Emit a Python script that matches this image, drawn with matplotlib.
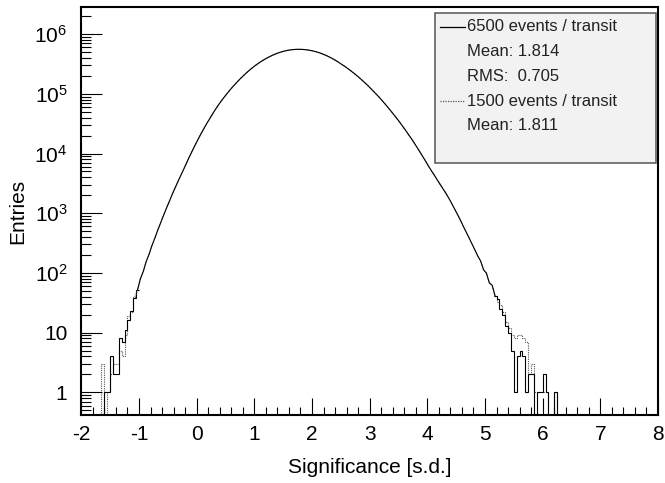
import numpy as np
import matplotlib
matplotlib.use("Agg")
import matplotlib.pyplot as plt
from matplotlib.ticker import FixedLocator, LogLocator, NullFormatter, MultipleLocator
from matplotlib.patches import Rectangle
from matplotlib.lines import Line2D

plt.rcParams['font.family'] = ['Liberation Sans', 'DejaVu Sans']
plt.rcParams['mathtext.fontset'] = 'custom'
plt.rcParams['mathtext.rm'] = 'Liberation Sans'
plt.rcParams['mathtext.it'] = 'Liberation Sans:italic'

# histogram binning
bin_lo = -2.0
bin_width = 0.05

# 6500 events / transit, counts per bin starting at -2.0
counts_6500 = [
    0, 0, 0, 0, 0, 0, 0, 0, 1, 1,
    4, 2, 2, 8, 7, 11, 16, 23, 38, 52,
    80, 106, 155, 205, 287, 381, 518, 687, 916, 1202,
    1567, 2051, 2636, 3381, 4295, 5433, 6950, 8831, 11120, 13930,
    17300, 21330, 26060, 31700, 38190, 45810, 54580, 64420, 75340, 87100,
    100200, 114800, 130600, 147600, 166300, 186200, 207000, 229600, 252400, 276700,
    301300, 325800, 350800, 375800, 399900, 423600, 446700, 467700, 487500, 504700,
    520000, 533300, 543300, 550800, 554600, 555900, 554600, 549500, 542000, 532100,
    518800, 504700, 487500, 467700, 447700, 425600, 402700, 378400, 354800, 330400,
    306900, 285100, 263000, 242100, 221800, 202800, 184500, 166700, 150700, 135500,
    121100, 107900, 96160, 85510, 75340, 66220, 57940, 50580, 44060, 38190,
    33040, 28310, 24320, 20650, 17660, 14890, 12530, 10500, 8770, 7295,
    6053, 5070, 4285, 3573, 3013, 2535, 2138, 1770, 1439, 1167,
    944, 760, 600, 481, 384, 305, 243, 192, 158, 113,
    99, 68, 62, 41, 37, 25, 20, 13, 10, 5,
    1, 4, 5, 4, 1, 2, 2, 0, 1, 1,
    2, 1, 0, 0, 1, 0,
]

# 1500 events / transit: same as above in the core, different in the tails
tail_lo_start = -1.65
tail_lo_1500 = [3, 0, 1, 2, 3, 3, 5, 4, 9, 19, 22, 40, 50]
tail_hi_start = 5.2
tail_hi_1500 = [33, 29, 22, 15, 12, 9, 8, 9, 9, 8, 7, 2, 3, 1, 1, 1, 1, 1]

labels = ["6500 events / transit", "Mean: 1.814", "RMS:  0.705",
          "1500 events / transit", "Mean: 1.811"]

counts_6500 = np.array(counts_6500, dtype=float)
n = len(counts_6500)
edges = bin_lo + bin_width * np.arange(n + 1)
centers = 0.5 * (edges[:-1] + edges[1:])
counts_1500 = counts_6500.copy()
i0 = int(round((tail_lo_start - bin_lo) / bin_width))
counts_1500[i0:i0 + len(tail_lo_1500)] = tail_lo_1500
i1 = int(round((tail_hi_start - bin_lo) / bin_width))
counts_1500[i1:i1 + len(tail_hi_1500)] = tail_hi_1500

fig = plt.figure(figsize=(6.65, 4.83), dpi=100)
ax = fig.add_axes([81.3 / 665, 1 - 415 / 483, (658 - 81.3) / 665, (415 - 7.3) / 483])


def draw_hist(counts, **style):
    # empty bins drop to the bottom of the frame, like ROOT draws them
    vals = np.where(counts > 0, counts, 1e-3)
    big = np.where(counts >= 40)[0]
    a, b = big[0], big[-1]
    # sparse tails as steps, dense core as a smooth outline
    ax.stairs(vals[:a + 1], edges[:a + 2], baseline=None, **style)
    ax.stairs(vals[b:], edges[b:], baseline=None, **style)
    ax.plot(centers[a:b + 1], vals[a:b + 1], **style)


draw_hist(counts_1500, color="#555555", lw=0.8, linestyle=(0, (1, 1)))
draw_hist(counts_6500, color="black", lw=0.8)

ax.set_yscale("log")
ax.set_xlim(-2, 8)
ax.set_ylim(0.417, 2.81e6)

ax.xaxis.set_major_locator(MultipleLocator(1))
ax.xaxis.set_minor_locator(MultipleLocator(0.2))
yt = [1, 10, 1e2, 1e3, 1e4, 1e5, 1e6]
ax.yaxis.set_major_locator(FixedLocator(yt))
ax.set_yticklabels(["1", "10", "$10^{2}$", "$10^{3}$", "$10^{4}$", "$10^{5}$", "$10^{6}$"])
ax.yaxis.set_minor_locator(LogLocator(base=10, subs=np.arange(2, 10)))
ax.yaxis.set_minor_formatter(NullFormatter())
xt = np.arange(-2, 9)
ax.set_xticks(xt)
ax.set_xticklabels([str(v) for v in xt])

ax.tick_params(axis="x", which="major", direction="in", length=12.2, width=0.8,
               labelsize=15, pad=7, top=False)
ax.tick_params(axis="x", which="minor", direction="in", length=5.8, width=0.8, top=False)
ax.tick_params(axis="y", which="major", direction="in", length=15, width=0.8,
               labelsize=15, pad=10, right=False)
ax.tick_params(axis="y", which="minor", direction="in", length=7.2, width=0.8, right=False)
for s in ax.spines.values():
    s.set_linewidth(1.5)

ax.set_xlabel("Significance [s.d.]", fontsize=15, labelpad=10)
ax.set_ylabel("Entries", fontsize=15, labelpad=5)

# stats / legend box
fig.patches.append(Rectangle((435 / 665, 1 - 162.7 / 483), 221 / 665, 150 / 483,
                             transform=fig.transFigure, facecolor="#f2f2f2",
                             edgecolor="#555555", lw=1.1, zorder=5))
ys = [26.7, 52, 76.7, 101.3, 126]
for lab, y in zip(labels, ys):
    fig.text(467.3 / 665, 1 - y / 483, lab, fontsize=12, va="center", ha="left",
             color="#222222", zorder=6)
fig.lines.append(Line2D([440 / 665, 465 / 665], [1 - ys[0] / 483] * 2,
                        transform=fig.transFigure, color="black", lw=0.9, zorder=6))
fig.lines.append(Line2D([440 / 665, 465 / 665], [1 - ys[3] / 483] * 2,
                        transform=fig.transFigure, color="#555555", lw=0.9,
                        linestyle=(0, (1, 1)), zorder=6))

fig.savefig("out.png", dpi=100)
